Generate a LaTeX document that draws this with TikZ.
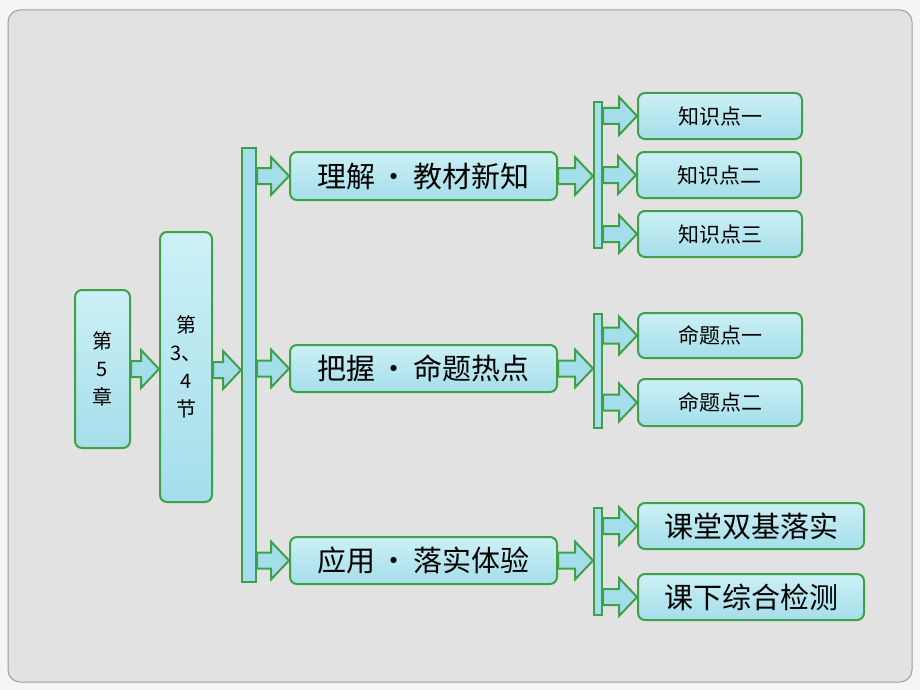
\documentclass[tikz,border=0pt]{standalone}
\usepackage{fontspec}
\setmainfont{Noto Sans CJK SC}
\usetikzlibrary{calc}
\definecolor{boxgreen}{RGB}{64,160,72}
\definecolor{dropcyan}{RGB}{164,222,234}
\definecolor{droplight}{RGB}{204,240,246}
\definecolor{panelgray}{RGB}{226,226,226}
% hollow block arrow between two points at the same height
\newcommand{\blockarrow}[2]{%
  \path[blockarr] let \p1=(#1), \p2=(#2) in
    (\x1,\y1+8pt) -- (\x2-18pt,\y1+8pt) -- (\x2-18pt,\y1+19pt) -- (\x2,\y1)
    -- (\x2-18pt,\y1-19pt) -- (\x2-18pt,\y1-8pt) -- (\x1,\y1-8pt) -- cycle;}
\begin{document}
\begin{tikzpicture}[x=1pt,y=-1pt]
        \tikzstyle{drop}=[draw=boxgreen,line width=2pt,top color=droplight,bottom color=dropcyan,rounded corners=7pt,inner sep=0pt,align=center,text=black]
        \tikzstyle{bar}=[draw=boxgreen,line width=2pt,fill=dropcyan,inner sep=0pt]
        \tikzstyle{blockarr}=[draw=boxgreen,line width=2pt,fill=dropcyan,line join=miter]
        \tikzstyle{bigtext}=[font=\fontsize{29}{32}\selectfont]
        \tikzstyle{smalltext}=[font=\fontsize{21}{23}\selectfont]
        \useasboundingbox (0,0) rectangle (920,690);
        \fill[white!96!black] (0,0) rectangle (920,690);
        \draw[fill=panelgray,draw=black!38,line width=1pt,rounded corners=12pt] (8,10) rectangle (912,682);
       \begin{scope}
         % chapter and section
         \node [drop,minimum width=55,minimum height=158,font=\fontsize{20}{28}\selectfont] (ch5) at (102.5,369) {第\\5\\章};
         \node [drop,minimum width=52,minimum height=270,font=\fontsize{20}{28}\selectfont] (sec34) at (186,367) {第\\3、\\4\\节};
         \node [bar,minimum width=14,minimum height=434] (bar1) at (249,365) {};
         % three parts
         \node [drop,bigtext,minimum width=267,minimum height=48] (lijie) at (423.5,176) {理解\,•\,教材新知};
         \node [drop,bigtext,minimum width=267,minimum height=47] (bawo) at (423.5,368.5) {把握\,•\,命题热点};
         \node [drop,bigtext,minimum width=267,minimum height=47] (yingyong) at (423.5,560.5) {应用\,•\,落实体验};
         \node [bar,minimum width=8,minimum height=146] (bar2) at (598,175) {};
         \node [bar,minimum width=8,minimum height=114] (bar3) at (598,371) {};
         \node [bar,minimum width=8,minimum height=107] (bar4) at (598,561.5) {};
         % leaves
         \node [drop,smalltext,minimum width=164,minimum height=46] (zs1) at (720,116) {知识点一};
         \node [drop,smalltext,minimum width=164,minimum height=46] (zs2) at (719,175) {知识点二};
         \node [drop,smalltext,minimum width=164,minimum height=46] (zs3) at (720,234) {知识点三};
         \node [drop,smalltext,minimum width=164,minimum height=45] (mt1) at (720,335.5) {命题点一};
         \node [drop,smalltext,minimum width=164,minimum height=47] (mt2) at (720,402.5) {命题点二};
         \node [drop,bigtext,minimum width=226,minimum height=46] (ktsj) at (751,526) {课堂双基落实};
         \node [drop,bigtext,minimum width=226,minimum height=46] (kxzh) at (751,597) {课下综合检测};
         % arrows
         \blockarrow{ch5.east |- 0,369}{sec34.west |- 0,369}
         \blockarrow{sec34.east |- 0,370}{bar1.west |- 0,370}
         \foreach \part in {lijie,bawo,yingyong} {
           \blockarrow{bar1.east |- \part.west}{\part.west}
         }
         \blockarrow{lijie.east}{bar2.west |- lijie.east}
         \blockarrow{bawo.east}{bar3.west |- bawo.east}
         \blockarrow{yingyong.east}{bar4.west |- yingyong.east}
         \foreach \leaf in {zs1,zs2,zs3} {
           \blockarrow{bar2.east |- \leaf.west}{\leaf.west}
         }
         \foreach \leaf in {mt1,mt2} {
           \blockarrow{bar3.east |- \leaf.west}{\leaf.west}
         }
         \foreach \leaf in {ktsj,kxzh} {
           \blockarrow{bar4.east |- \leaf.west}{\leaf.west}
         }
        \end{scope}
      \end{tikzpicture}
\end{document}
